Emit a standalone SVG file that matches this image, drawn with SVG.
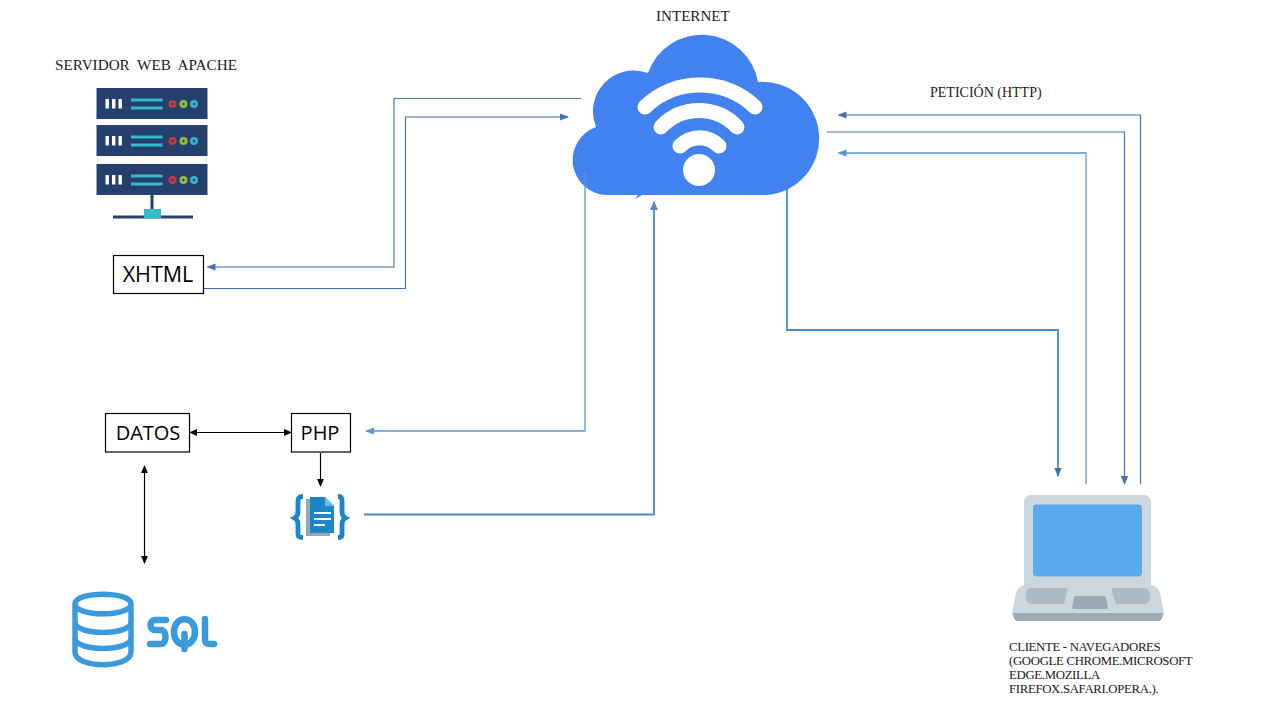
<svg xmlns="http://www.w3.org/2000/svg" width="1280" height="720" viewBox="0 0 1280 720">
<style>
.lbl{font-family:"Liberation Serif","Times New Roman",serif;font-size:12.8px;letter-spacing:-.33px;fill:#1a1a1a}
.box{fill:#fff;stroke:#000;stroke-width:1.2}
.boxt{font-family:"Open Sans","Liberation Sans",sans-serif;font-size:20px;fill:#000;text-anchor:middle}
.c1{fill:none;stroke:#4472b0;stroke-width:1.2}
.c2{fill:none;stroke:#5a96cf;stroke-width:1.3}
.c3{fill:none;stroke:#4f8cc4;stroke-width:1.8}
.k{fill:none;stroke:#000;stroke-width:1.2}
.srv{fill:#25406e}.bar{fill:#fff}.tl{fill:#35bcc8}
.w{fill:none;stroke:#fff;stroke-width:15;stroke-linecap:round}
.sql{fill:none;stroke:#3a9ade;stroke-linecap:round;stroke-linejoin:round}
</style>
<defs>
<marker id="a1" markerWidth="9" markerHeight="8" refX="8" refY="4" orient="auto-start-reverse" markerUnits="userSpaceOnUse"><path d="M0 .4L9 4L0 7.600z" fill="#4472b0"/></marker>
<marker id="a2" markerWidth="9" markerHeight="8" refX="8" refY="4" orient="auto-start-reverse" markerUnits="userSpaceOnUse"><path d="M0 .4L9 4L0 7.600z" fill="#5a96cf"/></marker>
<marker id="a3" markerWidth="9" markerHeight="9" refX="8" refY="4.500" orient="auto-start-reverse" markerUnits="userSpaceOnUse"><path d="M0 .5L9 4.500L0 8.500z" fill="#4f8cc4"/></marker>
<marker id="ak" markerWidth="8" markerHeight="8" refX="7" refY="4" orient="auto-start-reverse" markerUnits="userSpaceOnUse"><path d="M0 .6L8 4L0 7.400z" fill="#000"/></marker>
<g id="unit">
<rect x="0" y="0" width="111" height="31" class="srv"/>
<rect x="9" y="11" width="3.400" height="9.500" class="bar"/><rect x="15.500" y="11" width="3.400" height="9.500" class="bar"/><rect x="22" y="11" width="3.400" height="9.500" class="bar"/>
<rect x="34.500" y="10.500" width="31.500" height="3" class="tl"/><rect x="34.500" y="18.500" width="31.500" height="3" class="tl"/>
<circle cx="76" cy="16" r="4" fill="#c8344a"/><circle cx="87" cy="16" r="4" fill="#8cc030"/><circle cx="97.500" cy="16" r="4" fill="#38b0d0"/>
<circle cx="76" cy="16" r="1.200" class="srv"/><circle cx="87" cy="16" r="1.200" class="srv"/><circle cx="97.500" cy="16" r="1.200" class="srv"/>
</g>
</defs>

<g id="server">
<use href="#unit" x="96.500" y="88"/>
<use href="#unit" x="96.500" y="125"/>
<use href="#unit" x="96.500" y="164"/>
<rect x="150.500" y="195" width="3" height="14" class="srv"/>
<rect x="113" y="215.500" width="80" height="3" class="srv"/>
<rect x="144" y="209" width="17" height="9" class="tl"/>
<text x="55" y="70" style="font-family:'Liberation Serif','Times New Roman',serif;font-size:15.2px;fill:#1a1a1a" xml:space="preserve">SERVIDOR  WEB  APACHE</text>
</g>

<g id="cloud">
<path d="M607 195A35 35 0 0 1 596 127A41 41 0 0 1 648 73A57 57 0 0 1 758 82A56.500 56.500 0 0 1 767 195L642 195L635 199L638 195z" fill="#4282f0"/>
<path class="w" d="M645 107A80 80 0 0 1 755 107"/>
<path class="w" d="M661 127A52 52 0 0 1 737 127"/>
<path class="w" d="M680 146A27 27 0 0 1 719 146"/>
<circle cx="699" cy="170" r="16" fill="#fff"/>
<text x="656" y="21" style="font-family:'Liberation Serif','Times New Roman',serif;font-size:15.100px;fill:#1a1a1a">INTERNET</text>
</g>

<g id="connectors">
<path class="c1" marker-end="url(#a1)" d="M581 98.500H394V267H207.500"/>
<path class="c1" marker-end="url(#a1)" d="M204 288.500H405.500V117H568"/>
<path class="c1" marker-end="url(#a1)" d="M1140.500 484V115H838.500"/>
<path class="c1" marker-end="url(#a1)" d="M827 132H1124.500V484"/>
<path class="c2" marker-end="url(#a2)" d="M1086 484V153H838.500"/>
<path class="c3" marker-end="url(#a1)" d="M787 188V330H1058V476"/>
<path class="c2" marker-end="url(#a2)" d="M585 172V431H366"/>
<path class="c3" marker-end="url(#a3)" d="M364 514.500H654V202"/>
<path class="k" marker-start="url(#ak)" marker-end="url(#ak)" d="M190 432.500H291"/>
<path class="k" marker-end="url(#ak)" d="M320.500 453V486"/>
<path class="k" marker-start="url(#ak)" marker-end="url(#ak)" d="M144.500 466V563"/>
</g>

<g id="xhtml"><rect x="113.500" y="255.500" width="90" height="38" class="box"/><text x="158" y="281.500" class="boxt" style="font-size:21.500px">XHTML</text></g>
<g id="datos"><rect x="105.500" y="413.500" width="84" height="38.500" class="box"/><text x="148" y="439.500" class="boxt">DATOS</text></g>
<g id="php"><rect x="291.500" y="413.500" width="59" height="38.500" class="box"/><text x="320" y="439.500" class="boxt">PHP</text></g>

<g id="json">
<path d="M303 496.500C297 496.500 298 500 298 508C298 514 298 516 294.500 518C298 520 298 522 298 528C298 536 297 537.500 303 537.500" fill="none" stroke="#1a86c8" stroke-width="4.800"/>
<path d="M338 496.500C343 496.500 342 500 342 508C342 514 342 516 345.500 518C342 520 342 522 342 528C342 536 343 537.500 338 537.500" fill="none" stroke="#1a86c8" stroke-width="4.800"/>
<path d="M306 499H324L330 505V536H306z" fill="#9aa8b4"/>
<path d="M310 497H325L334 506V533H310z" fill="#1a86c8"/>
<path d="M325 497L334 506H325z" fill="#63c0ea"/>
<path d="M314 513H331M314 519H331M314 525H325" stroke="#fff" stroke-width="2" fill="none"/>
</g>

<g id="sql">
<path class="sql" stroke-width="5.500" d="M75 604C75 591 131 591 131 604V652C131 669 75 669 75 652zM75 604C75 617 131 617 131 604M75 622C75 636 131 636 131 622M75 638C75 652 131 652 131 638"/>
<path class="sql" stroke-width="6.500" d="M166 620H155C149 620 149 630 155 630H161C167 630 167 644 161 644H150"/>
<path class="sql" stroke-width="6.500" d="M174 632C174 615 195 615 195 632C195 649 174 649 174 632zM184.500 634V649"/>
<path class="sql" stroke-width="6.500" d="M205 619V639C205 643 206 644 210 644H214"/>
</g>

<g id="laptop">
<rect x="1024" y="495" width="127" height="108" rx="7" fill="#ccd6dd"/>
<rect x="1033" y="504.500" width="109" height="72" rx="4" fill="#5aa9ea"/>
<path d="M1026 585H1150C1155 585 1158 588 1160 593L1164 613H1012L1016 593C1018 588 1021 585 1026 585z" fill="#ccd6dd"/>
<path d="M1012 613H1164L1161 620C1160 621 1159 621 1158 621H1018C1017 621 1016 621 1015 620z" fill="#99aab5"/>
<path d="M1030 588H1064C1068 588 1068 590 1067 592L1064 604H1034C1028 604 1024 601 1026 595C1026 590 1028 588 1030 588z" fill="#aebac4"/>
<path d="M1112 588H1144C1148 588 1150 590 1150 595C1151 601 1148 604 1143 604H1116L1112 592z" fill="#aebac4"/>
<path d="M1076 596H1104Q1106 596 1106 598L1108 607Q1108 609 1106 609H1074Q1072 609 1072 607L1074 598Q1074 596 1076 596z" fill="#99aab5"/>
<text class="lbl" x="1009" y="651">CLIENTE - NAVEGADORES</text>
<text class="lbl" x="1009" y="665">(GOOGLE CHROME.MICROSOFT</text>
<text class="lbl" x="1009" y="679">EDGE.MOZILLA</text>
<text class="lbl" x="1009" y="693">FIREFOX.SAFARI.OPERA.).</text>
</g>

<text id="peticion" x="930" y="97" style="font-family:'Liberation Serif','Times New Roman',serif;font-size:14px;fill:#1a1a1a">PETICIÓN (HTTP)</text>
</svg>
